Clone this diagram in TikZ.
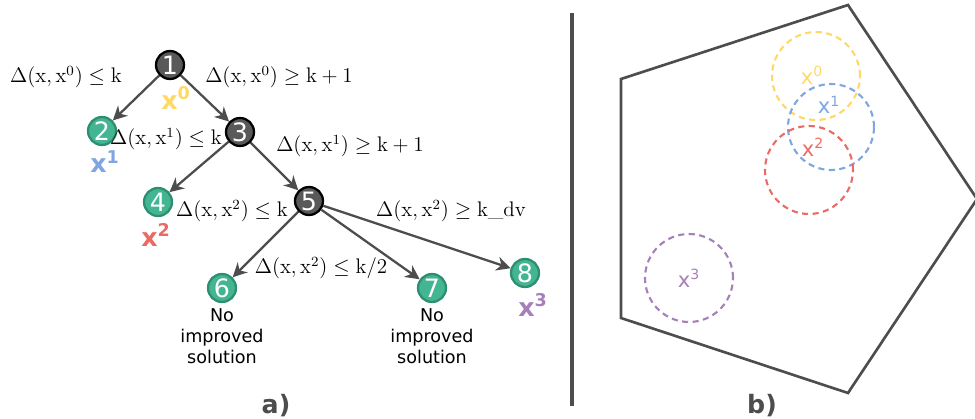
\documentclass[tikz,border=0pt]{standalone}
\usepackage{fontspec}
\setsansfont{DejaVu Sans}
\usetikzlibrary{arrows.meta}
\definecolor{leafgreen}{HTML}{44B593}
\definecolor{leafborder}{HTML}{2E8F6E}
\definecolor{nodegray}{HTML}{595959}
\definecolor{edgegray}{HTML}{4D4D4D}
\definecolor{solyellow}{HTML}{FFD966}
\definecolor{solblue}{HTML}{7EA6E0}
\definecolor{solred}{HTML}{EA6B66}
\definecolor{solpurple}{HTML}{A680B8}
\tikzset{
  inner/.style={circle, draw=black, line width=1.3pt, fill=nodegray, text=white,
    minimum size=0.56cm, inner sep=0pt, font=\sffamily\Large},
  leaf/.style={inner, draw=leafborder, fill=leafgreen},
  branch/.style={draw=edgegray, line width=1.3pt, -{Stealth[length=8pt,width=8pt,inset=2.5pt]}},
  cond/.style={font=\large, inner sep=1pt},
  sol/.style={font=\sffamily\bfseries\Large},
  zone/.style={dash pattern=on 3.5pt off 2.5pt, line width=1.2pt},
  zonelabel/.style={font=\sffamily\large},
}
\begin{document}
\begin{tikzpicture}[x=0.02cm,y=-0.02cm]
  \useasboundingbox (0,0) rectangle (975,419);
  % a) search tree
  \node[inner] (n1) at (170,65) {1};
  \node[leaf]  (n2) at (102,131) {2};
  \node[inner] (n3) at (240,132) {3};
  \node[leaf]  (n4) at (158,202) {4};
  \node[inner] (n5) at (309,201) {5};
  \node[leaf]  (n6) at (222,288) {6};
  \node[leaf]  (n7) at (432,288) {7};
  \node[leaf]  (n8) at (525,273) {8};
  \foreach \a/\b in {n1/n2, n1/n3, n3/n4, n3/n5, n5/n6, n5/n7, n5/n8}
    \draw[branch] (\a) -- (\b);
  \node[cond] (c1) at (66,77)   {$\Delta(\mathrm{x},\mathrm{x}^0)\leq\mathrm{k}$};
  \node[cond] (c2) at (279,77)  {$\Delta(\mathrm{x},\mathrm{x}^0)\geq\mathrm{k}+1$};
  \node[cond] (c3) at (166,139) {$\Delta(\mathrm{x},\mathrm{x}^1)\leq\mathrm{k}$};
  \node[cond] (c4) at (350,146) {$\Delta(\mathrm{x},\mathrm{x}^1)\geq\mathrm{k}+1$};
  \node[cond] (c5) at (232,211) {$\Delta(\mathrm{x},\mathrm{x}^2)\leq\mathrm{k}$};
  \node[cond] (c6) at (451,211) {$\Delta(\mathrm{x},\mathrm{x}^2)\geq\mathrm{k\_dv}$};
  \node[cond] (c7) at (321,268) {$\Delta(\mathrm{x},\mathrm{x}^2)\leq\mathrm{k}/2$};
  \node[sol, text=solyellow] (s0) at (176,98)  {x\textsuperscript{0}};
  \node[sol, text=solblue]   (s1) at (105,162) {x\textsuperscript{1}};
  \node[sol, text=solred]    (s2) at (156,235) {x\textsuperscript{2}};
  \node[sol, text=solpurple] (s3) at (533,305) {x\textsuperscript{3}};
  \node[font=\sffamily, align=center, anchor=north, inner sep=0pt] (t6) at (222,308) {No\\improved\\solution};
  \node[font=\sffamily, align=center, anchor=north, inner sep=0pt] (t7) at (432,308) {No\\improved\\solution};
  \node[font=\sffamily\bfseries\Large, text=edgegray] (pa) at (276,406) {a)};
  % divider
  \draw[edgegray, line width=2.2pt] (572,13) -- (572,406);
  % b) search space
  \draw[edgegray, line width=1.5pt, line join=miter]
    (621,79) -- (848,5) -- (977,199) -- (848,393) -- (621,318) -- cycle;
  \draw[zone, solyellow] (816,76) circle[radius=0.88cm];
  \draw[zone, solblue]   (831,127) circle[radius=0.86cm];
  \draw[zone, solred]    (809,170) circle[radius=0.88cm];
  \draw[zone, solpurple] (689,278) circle[radius=0.88cm];
  \node[zonelabel, text=solyellow] (b0) at (812,75)  {x\textsuperscript{0}};
  \node[zonelabel, text=solblue]   (b1) at (829,105) {x\textsuperscript{1}};
  \node[zonelabel, text=solred]    (b2) at (813,147) {x\textsuperscript{2}};
  \node[zonelabel, text=solpurple] (b3) at (689,278) {x\textsuperscript{3}};
  \node[font=\sffamily\bfseries\Large, text=edgegray] (pb) at (762,406) {b)};
\end{tikzpicture}
\end{document}
